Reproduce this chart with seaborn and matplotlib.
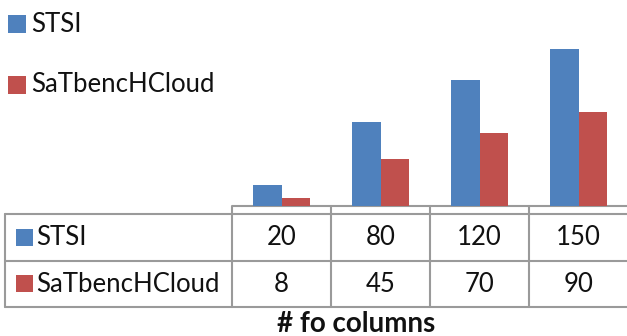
import matplotlib
matplotlib.use("Agg")
import matplotlib.pyplot as plt
import matplotlib.transforms as mtransforms
from matplotlib.patches import Rectangle
import seaborn as sns
import pandas as pd

# ---- data ----
categories = ["c1", "c2", "c3", "c4"]          # category ids (header row is empty in the chart)
category_labels = ["", "", "", ""]
series_names = ["STSI", "SaTbencHCloud"]
stsi_values = [20, 80, 120, 150]
satbench_values = [8, 45, 70, 90]
series_values = [stsi_values, satbench_values]
axis_title = "# fo columns"
colors = ["#4F81BD", "#C0504D"]

df = pd.DataFrame({
    "category": categories * 2,
    "series": [series_names[0]] * 4 + [series_names[1]] * 4,
    "value": stsi_values + satbench_values,
})

sns.set_theme(style="white")
plt.rcParams["font.family"] = ["Lato", "DejaVu Sans"]

W, H = 627, 336
fig = plt.figure(figsize=(W / 100, H / 100), dpi=100)
fig.patch.set_facecolor("white")

# overlay axes in pixel coordinates for the data table / legend
ov = fig.add_axes([0, 0, 1, 1], zorder=0)
ov.set_xlim(0, W)
ov.set_ylim(H, 0)
ov.axis("off")

# bar axes
base_px = 206
left_px = 232
col_w = 99
ax = fig.add_axes([left_px / W, 1 - base_px / H, 4 * col_w / W, base_px / H], zorder=1)
ax.patch.set_alpha(0)
sns.barplot(data=df, x="category", y="value", hue="series", order=categories,
            hue_order=series_names, palette=colors, width=0.57, saturation=1,
            ax=ax, legend=False, edgecolor="none")
ax.set_xlim(-0.5, 3.5)
ax.set_ylim(0, base_px / 1.05)
ax.set_xlabel("")
ax.set_ylabel("")
ax.set_xticks([])
ax.set_yticks([])
for s in ax.spines.values():
    s.set_visible(False)

lc = "#9a9a9a"
lw = 1.5

# mixed transform: x in category coords, y in pixel coords
btr = mtransforms.blended_transform_factory(ax.transData, ov.transData)

# table frame
hdr_bot = 214
row1_bot = 261
row2_bot = 307
table_left = 5
ov.plot([left_px, W], [base_px, base_px], color=lc, lw=lw, solid_capstyle="butt")
ov.plot([table_left, W], [hdr_bot, hdr_bot], color=lc, lw=lw)
ov.plot([table_left, W], [row1_bot, row1_bot], color=lc, lw=lw)
ov.plot([table_left, W], [row2_bot, row2_bot], color=lc, lw=lw)
ov.plot([table_left, table_left], [hdr_bot, row2_bot], color=lc, lw=lw)
for i in range(len(categories)):
    ov.plot([i - 0.5, i - 0.5], [base_px, row2_bot], color=lc, lw=lw, transform=btr)

fs = 18.5
txt_color = "#111111"
row_centers = [(hdr_bot + row1_bot) / 2, (row1_bot + row2_bot) / 2]
for r, (name, vals) in enumerate(zip(series_names, series_values)):
    yc = row_centers[r]
    ov.add_patch(Rectangle((16, yc - 9), 17, 17, color=colors[r], lw=0))
    ov.text(36, yc, name, fontsize=fs, color=txt_color, va="center", ha="left")
    for i, v in enumerate(vals):
        ov.text(i, yc, str(v), fontsize=fs, color=txt_color, va="center", ha="center",
                transform=btr)
for i, lab in enumerate(category_labels):
    ov.text(i, (base_px + hdr_bot) / 2, lab, fontsize=8, ha="center", va="center",
            transform=btr)

# legend at top-left
leg_y = [24, 85]
for r, name in enumerate(series_names):
    ov.add_patch(Rectangle((8, leg_y[r] - 9), 18, 18, color=colors[r], lw=0))
    ov.text(31, leg_y[r], name, fontsize=fs, color=txt_color, va="center", ha="left")

# axis title
ov.text(356, 324, axis_title, fontsize=20, fontweight="bold", color=txt_color,
        ha="center", va="center")

fig.savefig("out.png", dpi=100, facecolor="white")
